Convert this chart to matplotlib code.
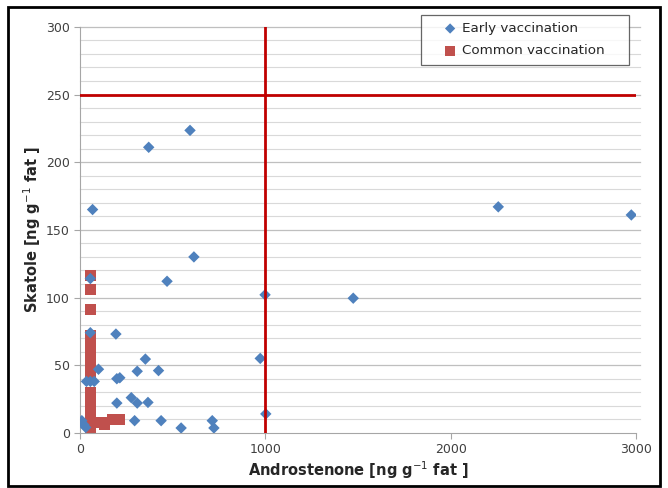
"""Skatole vs androstenone scatter (early vs common vaccination)."""

import matplotlib
matplotlib.use("Agg")
import matplotlib.pyplot as plt
from matplotlib.patches import Rectangle
from matplotlib.ticker import MultipleLocator

# Early vaccination (androstenone, skatole)
early_andro = [593, 370, 67, 2257, 2975, 614, 469, 998, 1474, 55, 193, 352,
               972, 99, 423, 308, 198, 214, 34, 76, 55, 276, 198, 308, 366,
               9, 294, 437, 713, 545, 722, 1002, 55, 20, 30]
early_skat = [223.5, 211, 165, 167, 161, 130, 112, 102, 99.5, 74, 73, 54.5,
              55, 47, 46, 45.5, 40, 40.7, 38, 38, 38, 26, 22, 22, 22.5,
              9, 9, 9, 9, 3.6, 3.6, 14, 114, 6, 4]

# Common vaccination (androstenone, skatole)
common_andro = [55] * 34 + [117, 133, 177, 211, 195]
common_skat = [116, 106, 91,
               72, 69, 66, 63, 60, 57, 54, 51, 48, 45, 42,
               30, 28, 26, 24, 22, 20, 18, 16, 14, 12, 10, 8, 6, 4, 2, 0.5,
               27, 23, 17, 11,
               7.7, 6, 9.7, 9.7, 9.7]

x_ticks = [0, 1000, 2000, 3000]
y_ticks = [0, 50, 100, 150, 200, 250, 300]
skatole_limit = 250
andro_limit = 1000

fig = plt.figure(figsize=(6.68, 4.88), dpi=100)
ax = fig.add_axes([0.12, 0.113, 0.832, 0.832])

# grid: every 10 light, every 50 slightly darker
for y in range(10, 301, 10):
    if y % 50 == 0:
        continue
    ax.plot([0, 3020], [y, y], color="#d9d9d9", lw=0.8, zorder=0, clip_on=False)
for y in y_ticks[1:]:
    ax.plot([0, 3020], [y, y], color="#bfbfbf", lw=0.9, zorder=0, clip_on=False)

ax.scatter(early_andro, early_skat, marker="D", s=34, color="#4f81bd",
           edgecolor="none", zorder=3, label="Early vaccination")
ax.scatter(common_andro, common_skat, marker="s", s=62, color="#c0504d",
           edgecolor="none", zorder=2, label="Common vaccination")

ax.plot([0, 3000], [skatole_limit, skatole_limit], color="#c00000", lw=2, zorder=4)
ax.plot([andro_limit, andro_limit], [0, 300], color="#c00000", lw=2, zorder=4)

ax.set_xlim(0, 3000)
ax.set_ylim(0, 300)
ax.set_xticks(x_ticks)
ax.set_yticks(y_ticks)
ax.yaxis.set_minor_locator(MultipleLocator(10))
ax.tick_params(axis="y", which="minor", length=0)
ax.tick_params(axis="both", which="major", labelsize=9, colors="#404040",
               length=4, color="#a6a6a6")

for side in ["top", "right"]:
    ax.spines[side].set_visible(False)
for side in ["left", "bottom"]:
    ax.spines[side].set_color("#a6a6a6")

ax.set_xlabel("Androstenone [ng g$^{-1}$ fat ]", fontsize=10.5,
              fontweight="bold", color="#262626", labelpad=2)
ax.set_ylabel("Skatole [ng g$^{-1}$ fat ]", fontsize=10.5,
              fontweight="bold", color="#262626", labelpad=2)

# Excel style legend: wide padding on both sides
handles, labels = ax.get_legend_handles_labels()
leg = ax.legend(handles, [lab + "    " for lab in labels],
                loc="upper right", bbox_to_anchor=(0.941, 0.970),
                bbox_transform=fig.transFigure, fontsize=9.7, frameon=True,
                fancybox=False, handletextpad=-0.75, handlelength=3.2,
                borderpad=0.55, labelspacing=0.7, markerscale=0.9,
                borderaxespad=0)
leg.get_frame().set_edgecolor("#404040")
leg.get_frame().set_linewidth(0.9)
leg.set_zorder(5)
for t in leg.get_texts():
    t.set_color("#262626")

# black frame round the whole picture
fig.patches.append(Rectangle((0.012, 0.004), 0.976, 0.982, transform=fig.transFigure,
                             fill=False, edgecolor="black", lw=2))

fig.savefig("out.png", dpi=100)
